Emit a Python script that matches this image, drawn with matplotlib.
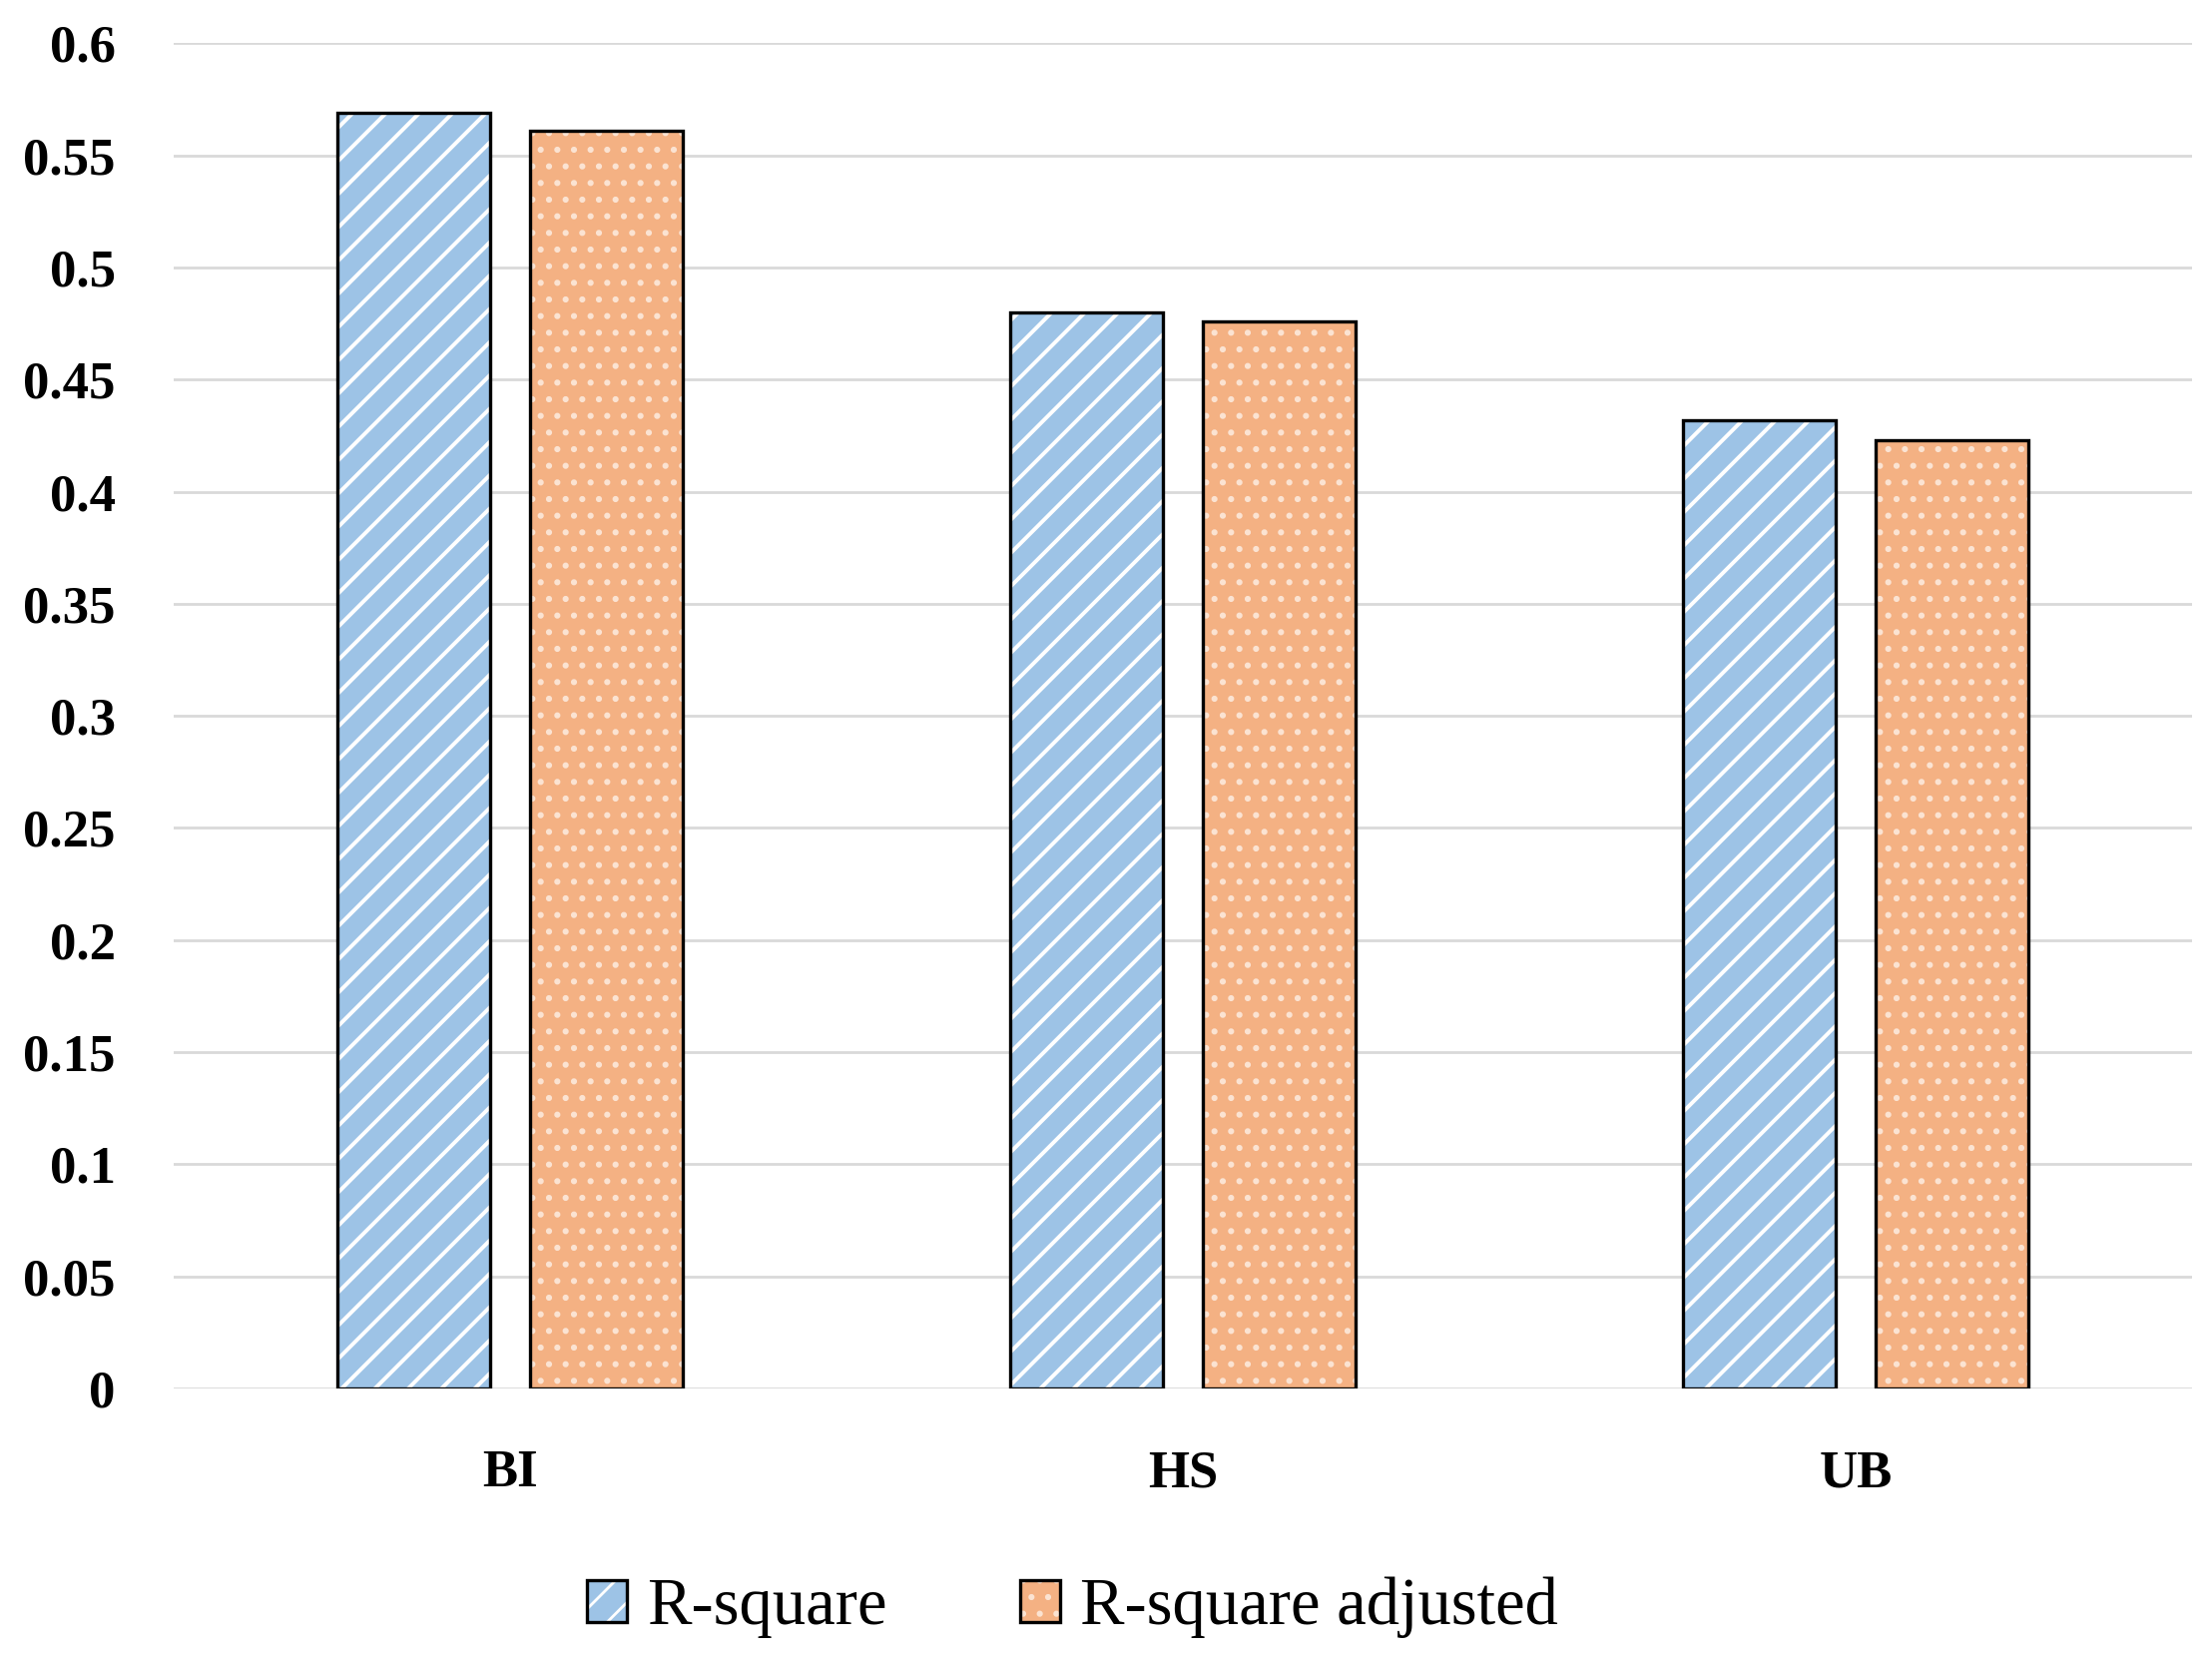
import numpy as np
import matplotlib
matplotlib.use("Agg")
import matplotlib.pyplot as plt
from matplotlib.patches import Patch
from matplotlib.legend_handler import HandlerTuple

# values
groups = ['BI', 'HS', 'UB']
r_square = [0.569, 0.480, 0.432]
r_square_adj = [0.561, 0.476, 0.423]
series_names = ['R-square', 'R-square adjusted']
yticks = [0, 0.05, 0.1, 0.15, 0.2, 0.25, 0.3, 0.35, 0.4, 0.45, 0.5, 0.55, 0.6]
ytick_labels = ['0', '0.05', '0.1', '0.15', '0.2', '0.25', '0.3', '0.35', '0.4', '0.45', '0.5', '0.55', '0.6']

blue = '#9DC3E6'
orange = '#F4B183'

plt.rcParams['font.family'] = ['Liberation Serif', 'DejaVu Serif']

fig = plt.figure(figsize=(11.08, 8.31), dpi=200)
ax = fig.add_axes([0.0785, 0.163, 0.9125, 0.811])

x = np.arange(len(groups))
w = 0.227
off = 0.1426

# fill + white hatch first, then black outline on top
with plt.rc_context({'hatch.linewidth': 1.4}):
    ax.bar(x - off, r_square, w, color=blue, edgecolor='white', linewidth=0, hatch='//', zorder=3)
    h_blue = Patch(facecolor=blue, edgecolor='white', hatch='//', linewidth=0)
with plt.rc_context({'hatch.linewidth': 1.0}):
    ax.bar(x + off, r_square_adj, w, color=orange, edgecolor='#FBE3D2', linewidth=0, hatch='..', zorder=3)
    h_orange = Patch(facecolor=orange, edgecolor='#FBE3D2', hatch='..', linewidth=0)
ax.bar(x - off, r_square, w, fill=False, edgecolor='black', linewidth=1.2, zorder=4)
ax.bar(x + off, r_square_adj, w, fill=False, edgecolor='black', linewidth=1.2, zorder=4)

ax.set_xlim(-0.5, 2.5)
ax.set_ylim(0, 0.6)
ax.set_yticks(yticks)
ax.set_yticklabels(ytick_labels, fontsize=19, fontweight='bold')
ax.set_xticks(x)
ax.set_xticklabels(groups, fontsize=19, fontweight='bold')
ax.tick_params(axis='y', length=0, pad=21)
ax.tick_params(axis='x', length=0, pad=22)

ax.grid(axis='y', color='#D9D9D9', linewidth=1.0, zorder=0)
ax.set_axisbelow(True)
for s in ax.spines.values():
    s.set_visible(False)

outline = Patch(fill=False, edgecolor='black', linewidth=1.2)
handles = [(h_blue, outline), (h_orange, outline)]
fig.legend(handles, series_names, loc='center', bbox_to_anchor=(0.485, 0.031), ncol=2,
           frameon=False, fontsize=24, handlelength=0.6, handleheight=0.6,
           handletextpad=0.3, columnspacing=2.0,
           handler_map={tuple: HandlerTuple(ndivide=1, pad=0)})

fig.savefig('out.png', dpi=200)
